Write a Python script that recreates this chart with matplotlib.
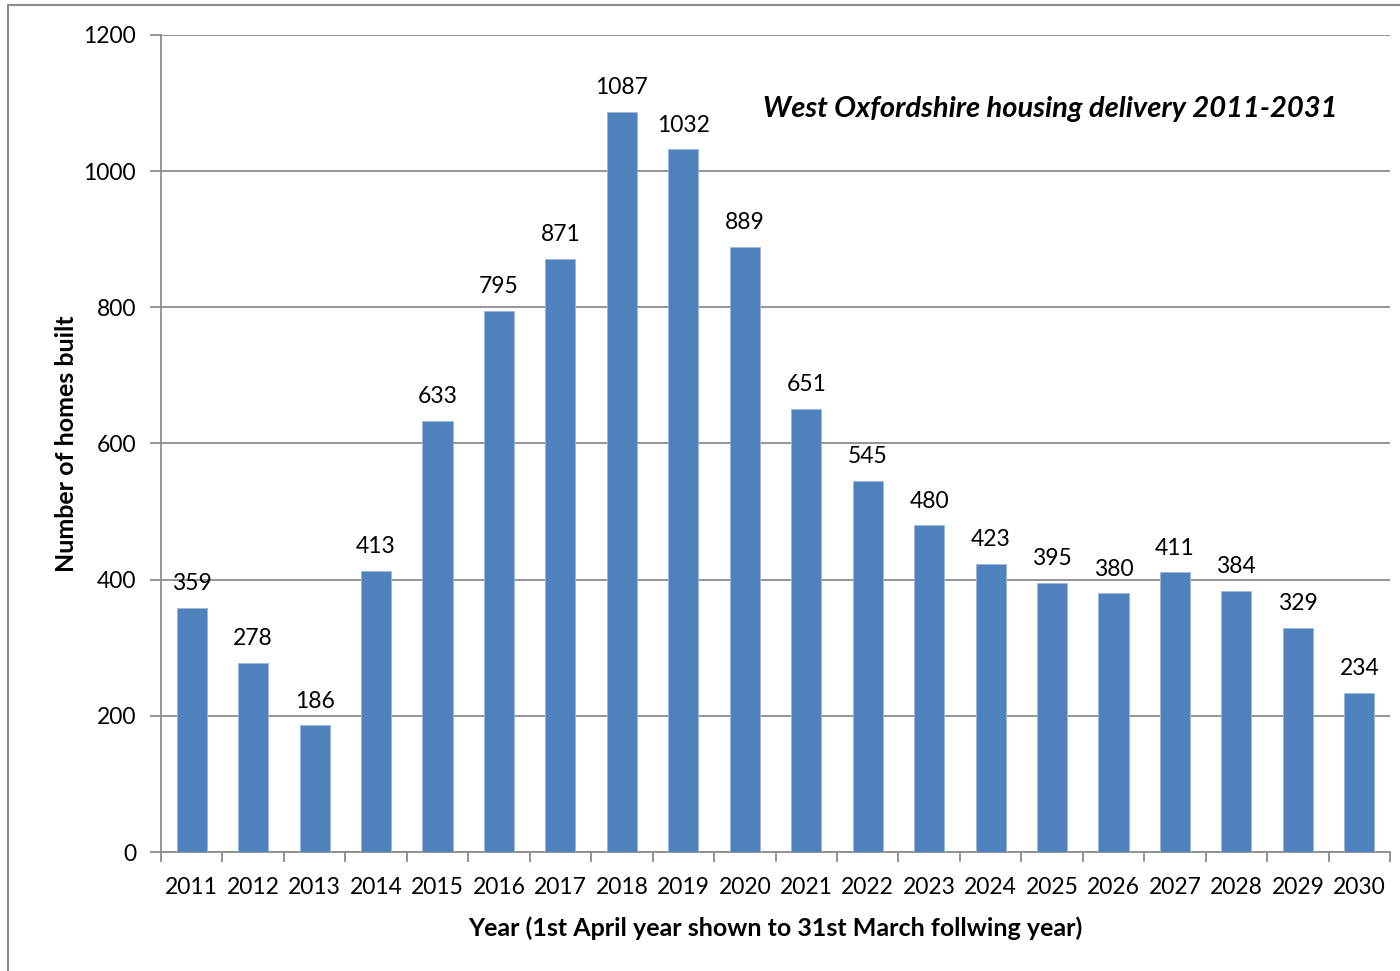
import numpy as np
import matplotlib
matplotlib.use("Agg")
import matplotlib.pyplot as plt
from matplotlib.patches import Rectangle

years = [str(y) for y in range(2011, 2031)]
homes = [359, 278, 186, 413, 633, 795, 871, 1087, 1032, 889,
         651, 545, 480, 423, 395, 380, 411, 384, 329, 234]
yticks = [0, 200, 400, 600, 800, 1000, 1200]

plt.rcParams.update({"font.family": ["Lato", "DejaVu Sans"]})

fig = plt.figure(figsize=(14, 9.71), dpi=100)
fig.patch.set_facecolor("white")
# marco exterior del grafico (Excel)
fig.patches.append(Rectangle((8 / 1400, -0.1), 1.2, 1.1 - 5 / 971,
                             transform=fig.transFigure, fill=False,
                             edgecolor="#8c8c8c", linewidth=1.5))

ax = fig.add_axes([161 / 1400, 119 / 971, 1229 / 1400, 817 / 971])
x = np.arange(len(years))
ax.bar(x, homes, width=0.49, color="#4F81BD", edgecolor="#9bb7dc", linewidth=0.6, zorder=3)
for xi, v in zip(x, homes):
    ax.text(xi, v + 20, str(v), ha="center", va="bottom", fontsize=16.5, zorder=4)

ax.set_xlim(-0.5, len(years) - 0.5)
ax.set_ylim(0, 1200)
ax.set_yticks(yticks)
ax.set_yticklabels([str(t) for t in yticks], fontsize=16.5)
ax.set_xticks(x)
ax.set_xticklabels(years, fontsize=16.5)
ax.set_xticks(np.arange(len(years) + 1) - 0.5, minor=True)
ax.tick_params(axis="x", which="major", length=0, pad=18)
ax.tick_params(axis="x", which="minor", length=7, color="#8c8c8c", width=1.3)
ax.tick_params(axis="y", length=8, color="#8c8c8c", width=1.3, pad=10)
ax.grid(axis="y", color="#8c8c8c", linewidth=1.3, zorder=0)
for s in ["top", "right"]:
    ax.spines[s].set_visible(False)
for s in ["left", "bottom"]:
    ax.spines[s].set_color("#8c8c8c")
    ax.spines[s].set_linewidth(1.3)

ax.set_ylabel("Number of homes built", fontsize=18, fontweight="bold", labelpad=4)
ax.set_xlabel("Year (1st April year shown to 31st March follwing year)", fontsize=18,
              fontweight="bold", labelpad=13)
ax.text(0.957, 0.909, "West Oxfordshire housing delivery 2011-2031", transform=ax.transAxes,
        ha="right", va="center", fontsize=21, fontweight="bold", fontstyle="italic")

fig.savefig("out.png", dpi=100, facecolor="white")
